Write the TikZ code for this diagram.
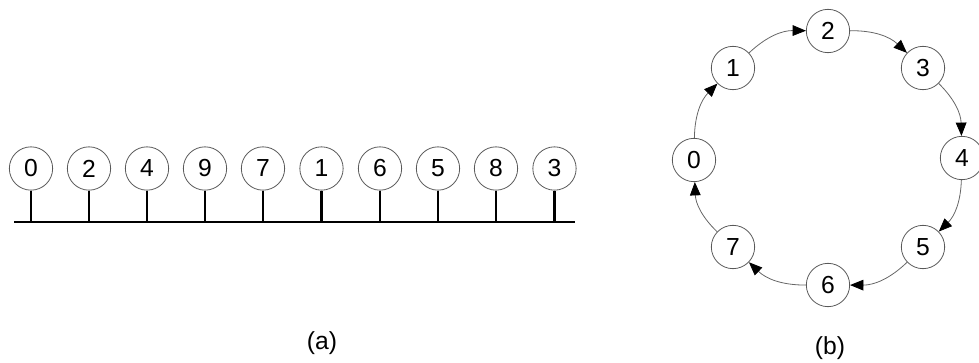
\documentclass[tikz,border=0pt]{standalone}
\usepackage{fontspec}
\setmainfont{Liberation Sans}
\usetikzlibrary{arrows.meta}
\begin{document}
\begin{tikzpicture}[x=0.75pt,y=-0.75pt,
  font=\fontsize{18.5}{22}\selectfont,
  station/.style={draw=gray!70!black, line width=0.6pt, circle, minimum size=32.5pt, inner sep=0pt},
  stem/.style={line width=2.1pt},
  link/.style={draw=gray!80!black, line width=0.6pt, -{Triangle[length=10pt,width=8pt,color=black]}}]
\useasboundingbox (0,0) rectangle (979,363);

% (a) bus
\coordinate (busL) at (14,222);
\coordinate (busR) at (575,222);
\node[station] (a0) at (31,168.5) {0};
\node[station] (a1) at (89,168.5) {2};
\node[station] (a2) at (147,168.5) {4};
\node[station] (a3) at (205,168.5) {9};
\node[station] (a4) at (263,168.5) {7};
\node[station] (a5) at (321.5,168.5) {1};
\node[station] (a6) at (380,168.5) {6};
\node[station] (a7) at (438,168.5) {5};
\node[station] (a8) at (496,168.5) {8};
\node[station] (a9) at (554.5,168.5) {3};

\draw[stem] (busL) -- (busR);
\draw[stem] (a0) -- (a0 |- busL);
\draw[stem] (a1) -- (a1 |- busL);
\draw[stem] (a2) -- (a2 |- busL);
\draw[stem] (a3) -- (a3 |- busL);
\draw[stem] (a4) -- (a4 |- busL);
\draw[stem] (a5) -- (a5 |- busL);
\draw[stem] (a6) -- (a6 |- busL);
\draw[stem] (a7) -- (a7 |- busL);
\draw[stem] (a8) -- (a8 |- busL);
\draw[stem] (a9) -- (a9 |- busL);

\node (capa) at (322,343) {(a)};

% (b) ring
\node[station] (r0) at (694,160) {0};
\node[station] (r1) at (733,68) {1};
\node[station] (r2) at (828,31) {2};
\node[station] (r3) at (923,68) {3};
\node[station] (r4) at (962,158) {4};
\node[station] (r5) at (923,247) {5};
\node[station] (r6) at (828,285) {6};
\node[station] (r7) at (733,247) {7};

\draw[link] (r0) to[bend left=22] (r1);
\draw[link] (r1) to[bend left=22] (r2);
\draw[link] (r2) to[bend left=22] (r3);
\draw[link] (r3) to[bend left=22] (r4);
\draw[link] (r4) to[bend left=22] (r5);
\draw[link] (r5) to[bend left=22] (r6);
\draw[link] (r6) to[bend left=22] (r7);
\draw[link] (r7) to[bend left=22] (r0);

\node (capb) at (830,348) {(b)};
\end{tikzpicture}
\end{document}
